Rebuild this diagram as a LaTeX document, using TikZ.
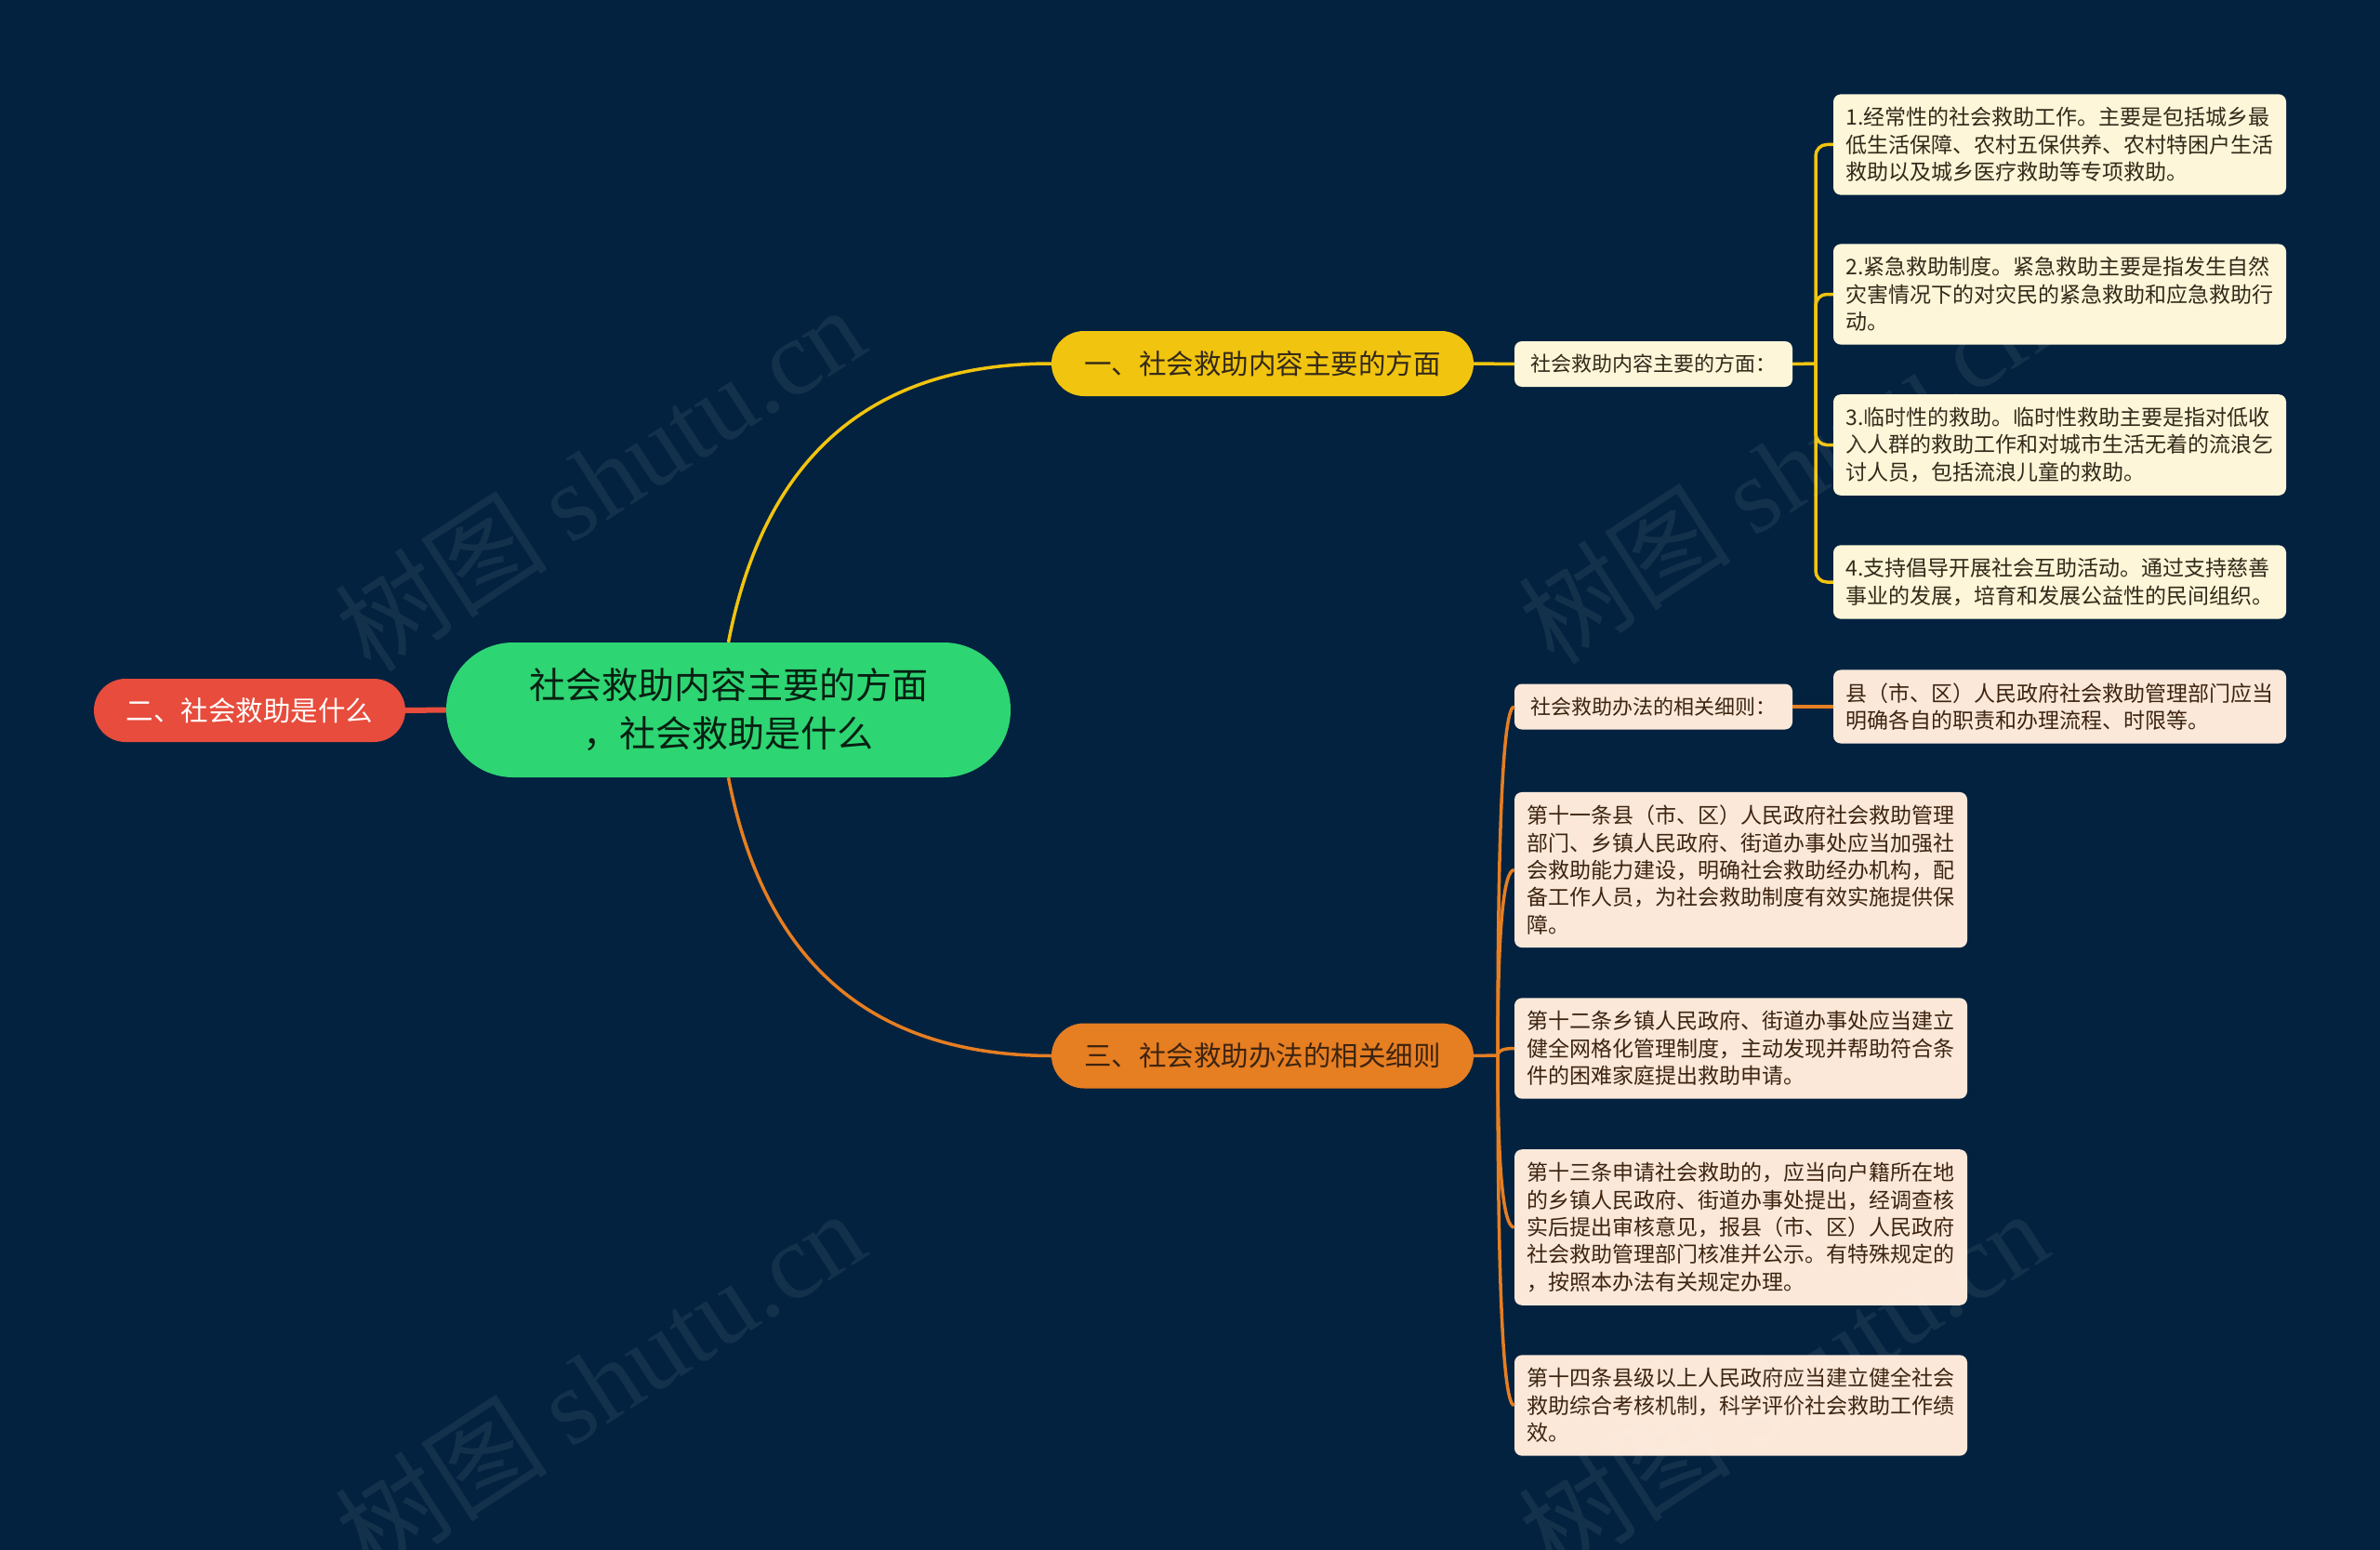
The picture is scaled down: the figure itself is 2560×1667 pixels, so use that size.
\documentclass[tikz,border=0pt]{standalone}
\usepackage{fontspec}
\setmainfont{Noto Sans CJK SC}
\newfontfamily\wmfont{Liberation Serif}
\usetikzlibrary{calc}
\definecolor{bgnavy}{HTML}{03223F}
\definecolor{rootgreen}{HTML}{2ED573}
\definecolor{redbr}{HTML}{E74C3C}
\definecolor{yellowbr}{HTML}{F1C40F}
\definecolor{orangebr}{HTML}{E67E22}
\definecolor{yellowleaf}{HTML}{FDF6D8}
\definecolor{orangeleaf}{HTML}{FBE8D9}
\definecolor{yellowtext}{HTML}{33291A}
\definecolor{orangetext}{HTML}{3D2410}

\begin{document}
\begin{tikzpicture}[x=1pt,y=-1pt,join=round,
        root/.style={fill=rootgreen,rounded corners=72pt,minimum width=607pt,minimum height=145pt,
                inner sep=0pt,align=center,text=rootgreen!15!black,font=\fontsize{39pt}{52pt}\selectfont},
        branch/.style={rounded corners=35pt,minimum width=454pt,minimum height=70pt,inner sep=0pt,
                font=\fontsize{29.5pt}{36pt}\selectfont},
        subbox/.style={rounded corners=8pt,minimum width=299pt,minimum height=49pt,inner sep=0pt,
                font=\fontsize{22pt}{29pt}\selectfont},
        leaf/.style={rounded corners=8pt,text width=460pt,inner xsep=13.5pt,inner ysep=14pt,align=left,
                font=\fontsize{23pt}{29.4pt}\selectfont},
        yline/.style={draw=yellowbr,line width=3.5pt},
        oline/.style={draw=orangebr,line width=3.5pt},
        watermark/.style={rotate=33,text=white,opacity=0.07,font=\fontsize{115pt}{115pt}\selectfont}]
        % background and frame
        \fill[bgnavy] (0,0) rectangle (2560,1667);
        \useasboundingbox (0,0) rectangle (2560,1667);
        % nodes
        \node[root] (root) at (783.5,763.5) {社会救助内容主要的方面\\，社会救助是什么};
        \node[branch,fill=redbr,minimum width=335pt,minimum height=68pt,rounded corners=34pt,text=white] (red) at (268.5,764) {二、社会救助是什么};
        \node[branch,fill=yellowbr,text=yellowtext] (ybr) at (1358,391) {一、社会救助内容主要的方面};
        \node[branch,fill=orangebr,text=orangetext] (obr) at (1358,1135.5) {三、社会救助办法的相关细则};
        \node[subbox,fill=yellowleaf,text=yellowtext] (ysub) at (1778.5,391.5) {社会救助内容主要的方面：};
        \node[leaf,fill=yellowleaf,text=yellowtext] (y1) at (2215.5,155.5) {1.经常性的社会救助工作。主要是包括城乡最\\低生活保障、农村五保供养、农村特困户生活\\救助以及城乡医疗救助等专项救助。};
        \node[leaf,fill=yellowleaf,text=yellowtext] (y2) at (2215.5,316.5) {2.紧急救助制度。紧急救助主要是指发生自然\\灾害情况下的对灾民的紧急救助和应急救助行\\动。};
        \node[leaf,fill=yellowleaf,text=yellowtext] (y3) at (2215.5,478.5) {3.临时性的救助。临时性救助主要是指对低收\\入人群的救助工作和对城市生活无着的流浪乞\\讨人员，包括流浪儿童的救助。};
        \node[leaf,fill=yellowleaf,text=yellowtext] (y4) at (2215.5,626) {4.支持倡导开展社会互助活动。通过支持慈善\\事业的发展，培育和发展公益性的民间组织。};
        \node[subbox,fill=orangeleaf,text=orangetext] (osub) at (1778.5,760) {社会救助办法的相关细则：};
        \node[leaf,fill=orangeleaf,text=orangetext] (oc) at (2215.5,760) {县（市、区）人民政府社会救助管理部门应当\\明确各自的职责和办理流程、时限等。};
        \node[leaf,fill=orangeleaf,text=orangetext] (o1) at (1872.5,935.5) {第十一条县（市、区）人民政府社会救助管理\\部门、乡镇人民政府、街道办事处应当加强社\\会救助能力建设，明确社会救助经办机构，配\\备工作人员，为社会救助制度有效实施提供保\\障。};
        \node[leaf,fill=orangeleaf,text=orangetext] (o2) at (1872.5,1127.5) {第十二条乡镇人民政府、街道办事处应当建立\\健全网格化管理制度，主动发现并帮助符合条\\件的困难家庭提出救助申请。};
        \node[leaf,fill=orangeleaf,text=orangetext] (o3) at (1872.5,1320) {第十三条申请社会救助的，应当向户籍所在地\\的乡镇人民政府、街道办事处提出，经调查核\\实后提出审核意见，报县（市、区）人民政府\\社会救助管理部门核准并公示。有特殊规定的\\，按照本办法有关规定办理。};
        \node[leaf,fill=orangeleaf,text=orangetext] (o4) at (1872.5,1511.5) {第十四条县级以上人民政府应当建立健全社会\\救助综合考核机制，科学评价社会救助工作绩\\效。};
        % connectors
        \coordinate (yj) at (1953,391);
        \coordinate (oj) at (1611,1135);
        \draw[draw=redbr,line width=6pt] (root.west) -- (red.east);
        \draw[yline] (root.north) .. controls (822,491) and (937,391) .. (ybr.west);
        \draw[oline] (root.south) .. controls (822,1035) and (937,1135) .. (obr.west);
        \draw[yline] (ybr.east) -- (ysub.west);
        \draw[yline] (ysub.east) -- (yj);
        \foreach \n in {y1,y2,y3,y4}
                \draw[yline,rounded corners=12pt] (yj) |- (\n.west);
        \draw[oline] (obr.east) -- (oj);
        \foreach \n in {osub,o1,o2,o3,o4}
                \draw[oline] (oj) .. controls ($(oj)!.667!(oj |- \n.west)$) and ($(\n.west)!.667!(oj |- \n.west)$) .. (\n.west);
        \draw[oline] (osub.east) -- (oc.west);
        % watermarks
        \foreach \wx/\wy in {645/514,1918/506,645/1486,1918/1486}
                \node[watermark] at (\wx,\wy) {树图 {\wmfont shutu.cn}};
\end{tikzpicture}
\end{document}
